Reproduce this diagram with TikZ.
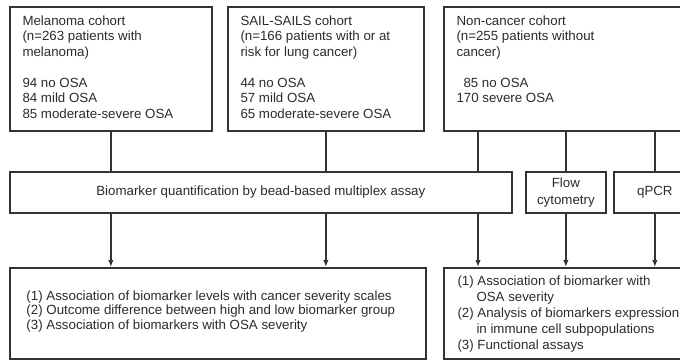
\documentclass[tikz,border=0pt]{standalone}
\usepackage{fontspec}
\setmainfont{Liberation Sans}
\usetikzlibrary{arrows.meta, positioning}
\definecolor{cline}{HTML}{333333}
\definecolor{ctext}{HTML}{2B2B2B}
\tikzset{
  every picture/.style={line width=1pt},
  box/.style={draw=cline, line width=1.7pt, inner sep=0pt},
  txt/.style={font=\fontsize{13.3}{15.5}\selectfont, text=ctext, align=left, inner sep=0pt},
  link/.style={draw=cline, line width=1.4pt},
  arrow/.style={link, -{Latex[length=7pt, width=5.5pt]}},
}

\begin{document}
\begin{tikzpicture}[x=1pt, y=-1pt]
  \path[use as bounding box, clip] (0,0) rectangle (680,362);
  % cohorts
  \node[box, anchor=north west, minimum width=202, minimum height=124] (mel) at (9,6) {};
  \node[box, anchor=north west, minimum width=196, minimum height=124] (sail) at (227,6) {};
  \node[box, anchor=north west, minimum width=260, minimum height=124] (noncan) at (443,6) {};
  \node[txt, anchor=north west] (meltxt) at ([shift={(13,9)}]mel.north west)
    {Melanoma cohort\\(n=263 patients with\\melanoma)\\[15.5pt]94 no OSA\\84 mild OSA\\85 moderate-severe OSA};
  \node[txt, anchor=north west] (sailtxt) at ([shift={(13,9)}]sail.north west)
    {SAIL-SAILS cohort\\(n=166 patients with or at\\risk for lung cancer)\\[15.5pt]44 no OSA\\57 mild OSA\\65 moderate-severe OSA};
  \node[txt, anchor=north west] (nctxt) at ([shift={(13,9)}]noncan.north west)
    {Non-cancer cohort\\(n=255 patients without\\cancer)\\[15.5pt]\hspace*{7pt}85 no OSA\\170 severe OSA};
  % assays
  \node[box, txt, align=center, anchor=north west, minimum width=502, minimum height=41] (bead) at (9,171)
    {Biomarker quantification by bead-based multiplex assay};
  \node[box, txt, align=center, anchor=north west, minimum width=80, minimum height=41,
    font=\fontsize{13.3}{16.5}\selectfont] (flow) at (525,171) {Flow\\cytometry};
  \node[box, txt, align=center, anchor=north west, minimum width=82, minimum height=41] (qpcr) at (613,171) {qPCR};
  % outcomes
  \node[box, anchor=north west, minimum width=416, minimum height=91] (canout) at (9,267) {};
  \node[box, anchor=north west, minimum width=260, minimum height=91] (ncout) at (443,267) {};
  \node[txt, anchor=west, font=\fontsize{13.3}{14.5}\selectfont] (canouttxt) at ([shift={(17,-2)}]canout.west)
    {(1) Association of biomarker levels with cancer severity scales\\(2) Outcome difference between high and low biomarker group\\(3) Association of biomarkers with OSA severity};
  \node[txt, anchor=north west, font=\fontsize{13.3}{16.2}\selectfont] (ncouttxt) at ([shift={(14,8)}]ncout.north west)
    {(1) Association of biomarker with\\\hspace*{19pt}OSA severity\\(2) Analysis of biomarkers expression\\\hspace*{19pt}in immune cell subpopulations\\(3) Functional assays};
  % connectors
  \coordinate (ncx) at (478,0);
  \draw[link] (mel.south) -- (mel.south |- bead.north);
  \draw[link] (sail.south) -- (sail.south |- bead.north);
  \draw[link] (noncan.south -| ncx) -- (bead.north -| ncx);
  \draw[link] (noncan.south -| flow.north) -- (flow.north);
  \draw[link] (noncan.south -| qpcr.north) -- (qpcr.north);
  \draw[arrow] (bead.south -| mel.south) -- (mel.south |- canout.north);
  \draw[arrow] (bead.south -| sail.south) -- (sail.south |- canout.north);
  \draw[arrow] (bead.south -| ncx) -- (ncout.north -| ncx);
  \draw[arrow] (flow.south) -- (flow.south |- ncout.north);
  \draw[arrow] (qpcr.south) -- (qpcr.south |- ncout.north);
\end{tikzpicture}
\end{document}
